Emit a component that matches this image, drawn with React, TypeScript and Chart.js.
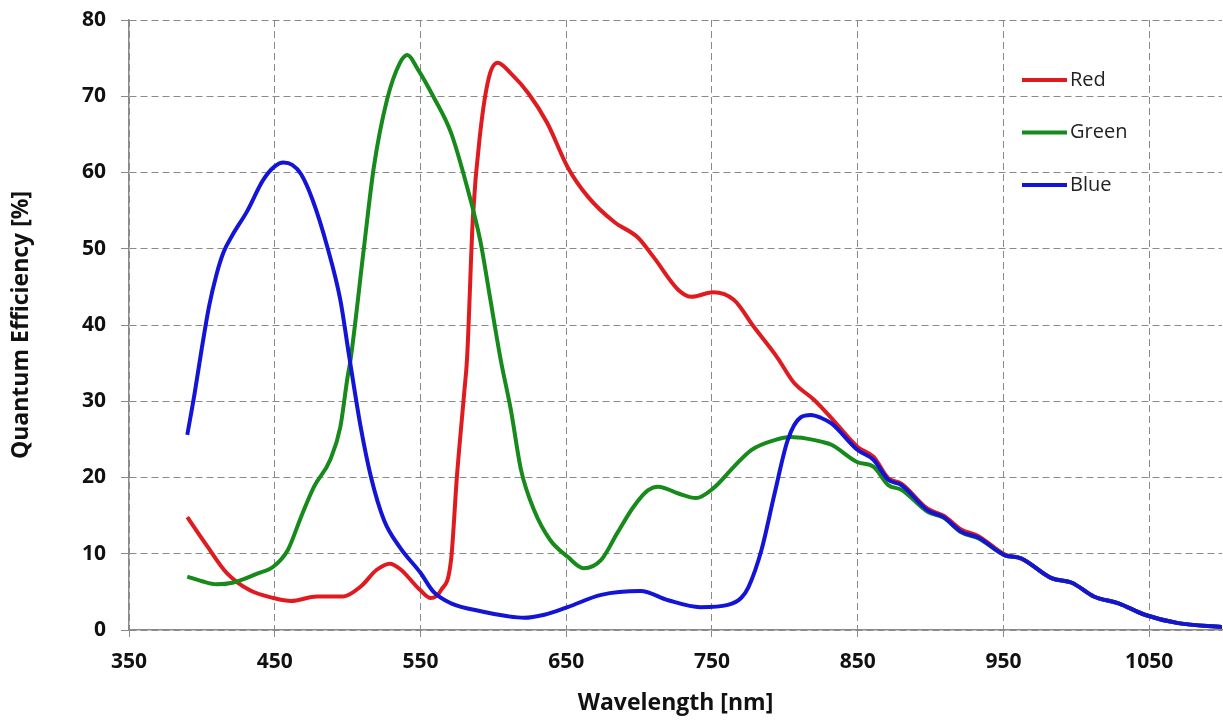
import React, { useEffect, useRef } from "react";
import { Chart, registerables } from "chart.js";

Chart.register(...registerables);

// Axis tick values
const xTickValues = [350, 450, 550, 650, 750, 850, 950, 1050];
const yTickValues = [0, 10, 20, 30, 40, 50, 60, 70, 80];

// Red channel (nm, %)
const redWavelengths = [390, 404, 417, 433, 449, 461, 479, 497, 509, 520, 529, 536, 550, 557, 564, 571, 575, 580, 582, 586, 591, 597, 603, 612, 624, 637, 651, 665, 683, 699, 710, 727, 736, 751, 765, 779, 795, 806, 820, 832, 850, 861, 871, 880, 898, 909, 921, 933, 951];
const redQE = [14.8, 10.9, 7.5, 5.2, 4.2, 3.8, 4.4, 4.4, 5.7, 7.9, 8.7, 8.0, 5.2, 4.2, 5.2, 9.2, 20.1, 31.1, 35.7, 54.2, 65.2, 72.5, 74.4, 73.0, 70.4, 66.5, 60.7, 56.8, 53.5, 51.5, 48.9, 44.6, 43.7, 44.3, 43.3, 39.7, 35.7, 32.5, 30.2, 27.8, 24.0, 22.7, 19.9, 19.2, 15.9, 15.0, 13.2, 12.3, 9.9];

// Green channel (nm, %)
const greenWavelengths = [390, 400, 410, 421, 438, 449, 459, 468, 477, 488, 495, 500, 502, 511, 518, 527, 536, 541, 548, 559, 571, 582, 591, 598, 605, 612, 619, 628, 639, 651, 662, 674, 685, 696, 706, 713, 727, 739, 751, 765, 777, 793, 804, 815, 825, 832, 850, 861, 871, 880, 898, 909, 921, 933, 951];
const greenQE = [7.0, 6.4, 6.0, 6.2, 7.4, 8.3, 10.5, 14.8, 18.8, 22.3, 26.6, 33.2, 35.4, 49.8, 60.7, 69.5, 74.4, 75.4, 73.6, 69.9, 65.2, 58.1, 51.1, 43.3, 35.5, 28.9, 21.0, 15.7, 11.8, 9.6, 8.1, 9.2, 12.7, 16.1, 18.3, 18.8, 17.9, 17.3, 18.6, 21.4, 23.6, 24.9, 25.3, 25.1, 24.7, 24.3, 22.0, 21.4, 19.0, 18.4, 15.5, 14.7, 12.8, 12.0, 9.8];

// Blue channel (nm, %)
const blueWavelengths = [390, 395, 400, 405, 410, 415, 421, 431, 442, 450, 456, 462, 468, 476, 486, 495, 501, 509, 516, 525, 536, 550, 559, 571, 593, 610, 621, 635, 651, 674, 701, 720, 742, 761, 770, 775, 784, 793, 802, 811, 818, 825, 832, 850, 861, 871, 880, 898, 909, 921, 933, 951];
const blueQE = [25.6, 31.0, 37.0, 42.5, 46.6, 49.6, 51.8, 54.9, 59.0, 60.8, 61.3, 61.0, 59.8, 56.4, 50.3, 43.3, 36.0, 26.6, 20.1, 14.4, 10.8, 7.5, 5.0, 3.5, 2.4, 1.8, 1.6, 2.0, 3.0, 4.6, 5.1, 3.9, 3.0, 3.3, 4.2, 5.6, 10.5, 17.9, 24.9, 27.9, 28.2, 27.8, 27.1, 23.6, 22.3, 19.7, 19.0, 15.7, 14.8, 12.9, 12.1, 9.8];

// Shared NIR tail where all three channels coincide
const tailWavelengths = [962, 983, 997, 1012, 1029, 1047, 1070, 1100];
const tailQE = [9.4, 6.8, 6.2, 4.4, 3.5, 2.0, 0.9, 0.4];

const seriesNames = ["Red", "Green", "Blue"];
const seriesColors = ["#e01b1f", "#178a1c", "#1414d6"];

function toPoints(xs: number[], ys: number[]) {
  const pts = xs.map((x, i) => ({ x, y: ys[i] }));
  return pts.concat(tailWavelengths.map((x, i) => ({ x, y: tailQE[i] })));
}

const FONT = "'Open Sans', 'Noto Sans', sans-serif";
const GRID = "#8a8a8a";

const insideLegend = {
  id: "insideLegend",
  afterDatasetsDraw(chart: any) {
    const { ctx, chartArea } = chart;
    const x0 = chartArea.right - 200;
    ctx.save();
    seriesNames.forEach((name, i) => {
      const y = chartArea.top + 60 + i * 52.5;
      ctx.strokeStyle = seriesColors[i];
      ctx.lineWidth = 4;
      ctx.lineCap = "butt";
      ctx.beginPath();
      ctx.moveTo(x0, y);
      ctx.lineTo(x0 + 45, y);
      ctx.stroke();
      ctx.fillStyle = "#222";
      ctx.font = `20px ${FONT}`;
      ctx.textBaseline = "middle";
      ctx.textAlign = "left";
      ctx.fillText(name, x0 + 48, y);
    });
    ctx.restore();
  },
};

export default function App() {
  const canvasRef = useRef<HTMLCanvasElement | null>(null);

  useEffect(() => {
    if (!canvasRef.current) return;
    const datasets = [
      { label: seriesNames[0], data: toPoints(redWavelengths, redQE), borderColor: seriesColors[0], order: 2 },
      { label: seriesNames[1], data: toPoints(greenWavelengths, greenQE), borderColor: seriesColors[1], order: 1 },
      { label: seriesNames[2], data: toPoints(blueWavelengths, blueQE), borderColor: seriesColors[2], order: 0 },
    ].map((d) => ({
      ...d,
      borderWidth: 4,
      pointRadius: 0,
      fill: false,
      cubicInterpolationMode: "monotone" as const,
    }));

    const chart = new Chart(canvasRef.current, {
      type: "line",
      data: { datasets },
      options: {
        animation: false,
        responsive: false,
        devicePixelRatio: 1,
        layout: { padding: { top: 20, right: 1, left: 0, bottom: 0 } },
        plugins: { legend: { display: false }, tooltip: { enabled: false } },
        scales: {
          x: {
            type: "linear",
            min: 350,
            max: 1100,
            afterBuildTicks: (s: any) => {
              s.ticks = xTickValues.map((v) => ({ value: v }));
            },
            afterFit: (s: any) => {
              s.height = 93;
              s.paddingLeft = 0;
              s.paddingRight = 0;
            },
            grid: { color: GRID, lineWidth: 1, tickLength: 7, tickColor: GRID, tickBorderDash: [] },
            border: { display: true, color: GRID, width: 1.5, dash: [7, 4] },
            ticks: {
              autoSkip: false,
              maxRotation: 0,
              padding: 12,
              color: "#111",
              font: { family: FONT, size: 21, weight: "bold" },
              callback: (v: any) => String(v),
            },
            title: {
              display: true,
              text: "Wavelength [nm]",
              color: "#111",
              font: { family: FONT, size: 23, weight: "bold" },
              padding: { top: 0, bottom: 6 },
            },
          },
          y: {
            type: "linear",
            min: 0,
            max: 80,
            afterBuildTicks: (s: any) => {
              s.ticks = yTickValues.map((v) => ({ value: v }));
            },
            afterFit: (s: any) => {
              s.width = 129;
              s.paddingTop = 0;
              s.paddingBottom = 0;
            },
            grid: { color: GRID, lineWidth: 1, tickLength: 8, tickColor: GRID, tickBorderDash: [] },
            border: { display: true, color: GRID, width: 1.5, dash: [7, 4] },
            ticks: {
              padding: 15,
              color: "#111",
              font: { family: FONT, size: 21, weight: "bold" },
              callback: (v: any) => String(v),
            },
            title: {
              display: true,
              text: "Quantum Efficiency [%]",
              color: "#111",
              font: { family: FONT, size: 23, weight: "bold" },
              padding: { top: 8, bottom: 0 },
            },
          },
        },
      },
      plugins: [insideLegend],
    });
    return () => chart.destroy();
  }, []);

  return (
    <div style={{ position: "absolute", left: 0, top: 0, width: 1223, height: 723, background: "#fff" }}>
      <canvas ref={canvasRef} width={1223} height={723} />
    </div>
  );
}
